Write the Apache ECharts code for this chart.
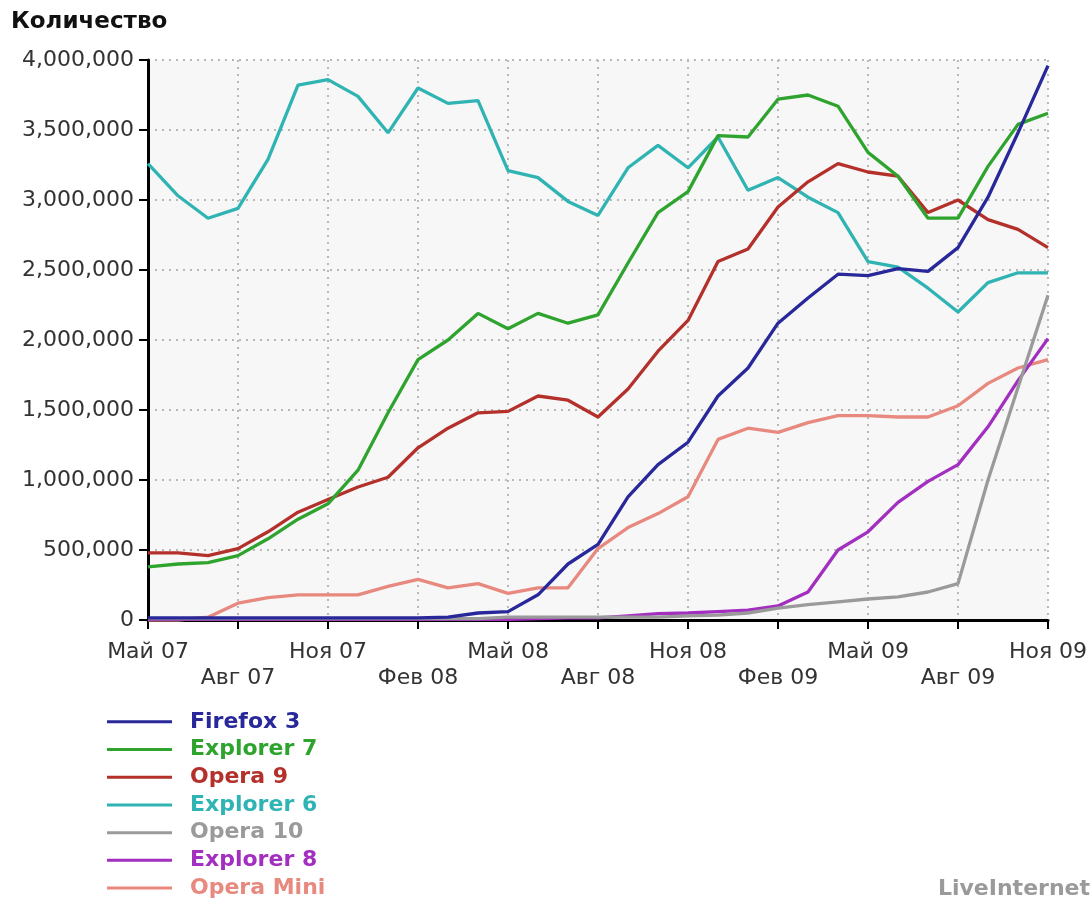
<!DOCTYPE html>
<html>
<head>
<meta charset="utf-8">
<script src="https://cdn.jsdelivr.net/npm/echarts@6/dist/echarts.min.js"></script>
<style>
html,body{margin:0;padding:0;background:#fff;}
#chart{width:1092px;height:904px;}
</style>
</head>
<body>
<div id="chart"></div>
<script>
const months = [
  'Май 07','Июн 07','Июл 07','Авг 07','Сен 07','Окт 07','Ноя 07','Дек 07',
  'Янв 08','Фев 08','Мар 08','Апр 08','Май 08','Июн 08','Июл 08','Авг 08','Сен 08','Окт 08','Ноя 08','Дек 08',
  'Янв 09','Фев 09','Мар 09','Апр 09','Май 09','Июн 09','Июл 09','Авг 09','Сен 09','Окт 09','Ноя 09'
];
const yTicks = [0, 500000, 1000000, 1500000, 2000000, 2500000, 3000000, 3500000, 4000000];

const firefox3 = [15000,15000,15000,15000,15000,15000,15000,15000,15000,15000,20000,50000,60000,180000,400000,540000,880000,1110000,1270000,1600000,1800000,2120000,2300000,2470000,2460000,2510000,2490000,2660000,3020000,3480000,3960000];
const explorer7 = [380000,400000,410000,460000,580000,720000,830000,1070000,1480000,1860000,2000000,2190000,2080000,2190000,2120000,2180000,2550000,2910000,3060000,3460000,3450000,3720000,3750000,3670000,3340000,3170000,2870000,2870000,3240000,3540000,3620000];
const opera9 = [480000,480000,460000,510000,630000,770000,860000,950000,1020000,1230000,1370000,1480000,1490000,1600000,1570000,1450000,1650000,1920000,2140000,2560000,2650000,2950000,3130000,3260000,3200000,3170000,2910000,3000000,2860000,2790000,2660000];
const explorer6 = [3260000,3030000,2870000,2940000,3290000,3820000,3860000,3740000,3480000,3800000,3690000,3710000,3210000,3160000,2990000,2890000,3230000,3390000,3230000,3450000,3070000,3160000,3020000,2910000,2560000,2520000,2370000,2200000,2410000,2480000,2480000];
const opera10 = [10000,10000,10000,10000,10000,10000,10000,10000,10000,10000,10000,10000,20000,20000,20000,20000,20000,20000,30000,35000,50000,85000,110000,130000,150000,165000,200000,260000,1000000,1660000,2320000];
const explorer8 = [5000,5000,5000,5000,5000,5000,5000,5000,5000,5000,5000,5000,5000,10000,15000,15000,30000,45000,50000,60000,70000,100000,200000,500000,630000,840000,990000,1110000,1380000,1710000,2010000];
const operaMini = [0,0,20000,120000,160000,180000,180000,180000,240000,290000,230000,260000,190000,230000,230000,510000,660000,760000,880000,1290000,1370000,1340000,1410000,1460000,1460000,1450000,1450000,1530000,1690000,1800000,1860000];

const seriesNames = ['Firefox 3','Explorer 7','Opera 9','Explorer 6','Opera 10','Explorer 8','Opera Mini'];
const seriesData = [firefox3, explorer7, opera9, explorer6, opera10, explorer8, operaMini];
const colors = ['#28289a','#2ea32e','#b3302b','#2fb3b3','#9a9a9a','#a22fbf','#e8897f'];

const chart = echarts.init(document.getElementById('chart'), null, {renderer:'canvas'});
const font = 'DejaVu Sans';
const gridLine = {show:true, lineStyle:{color:'#b8b8b8', type:[2,5], width:2}};

const series = seriesNames.map((n,i)=>({
  name:n, type:'line', data:seriesData[i], showSymbol:false, symbol:'none',
  lineStyle:{width:3.3, color:colors[i]}, itemStyle:{color:colors[i]},
  z: 10 - i, animation:false
}));

chart.setOption({
  animation:false,
  backgroundColor:'#ffffff',
  title:[
    {text:'Количество', left:11, top:11, padding:0, textStyle:{fontFamily:font, fontSize:23, fontWeight:'bold', color:'#111'}},
    {text:'LiveInternet', right:2, top:878, padding:0, textStyle:{fontFamily:font, fontSize:22, fontWeight:'bold', color:'#9a9a9a'}}
  ],
  grid:{left:148, right:44, top:60, bottom:284, show:true, backgroundColor:'#f7f7f7', borderWidth:0},
  legend:{
    orient:'vertical', left:107, top:708, padding:0, height:196, itemWidth:65, itemHeight:3, itemGap:0, icon:'rect',
    selectedMode:false,
    textStyle:{fontFamily:font, fontSize:22, fontWeight:'bold', lineHeight:27.7, padding:[0,0,0,13]},
    data: seriesNames.map((n,i)=>({name:n, textStyle:{color:colors[i]}}))
  },
  xAxis:{
    type:'category', data:months, boundaryGap:false,
    axisLine:{lineStyle:{color:'#000', width:3}},
    axisTick:{show:true, interval:2, length:9, lineStyle:{color:'#000', width:2}},
    axisLabel:{interval:2, margin:19, fontFamily:font, fontSize:22, color:'#333', lineHeight:26,
      formatter:(v, idx)=> (idx % 6 === 3 ? '\n' + v : v)},
    splitLine:{show:true, interval:2, lineStyle:{color:'#b8b8b8', type:[2,5], width:2}}
  },
  yAxis:{
    type:'value', min:yTicks[0], max:yTicks[yTicks.length-1], interval:yTicks[1]-yTicks[0],
    axisLine:{show:true, lineStyle:{color:'#000', width:3}},
    axisTick:{show:true, length:9, lineStyle:{color:'#000', width:2}},
    axisLabel:{margin:14, fontFamily:font, fontSize:22, color:'#333',
      formatter:v=>v.toLocaleString('en-US')},
    splitLine:gridLine
  },
  series: series
});
</script>
</body>
</html>
